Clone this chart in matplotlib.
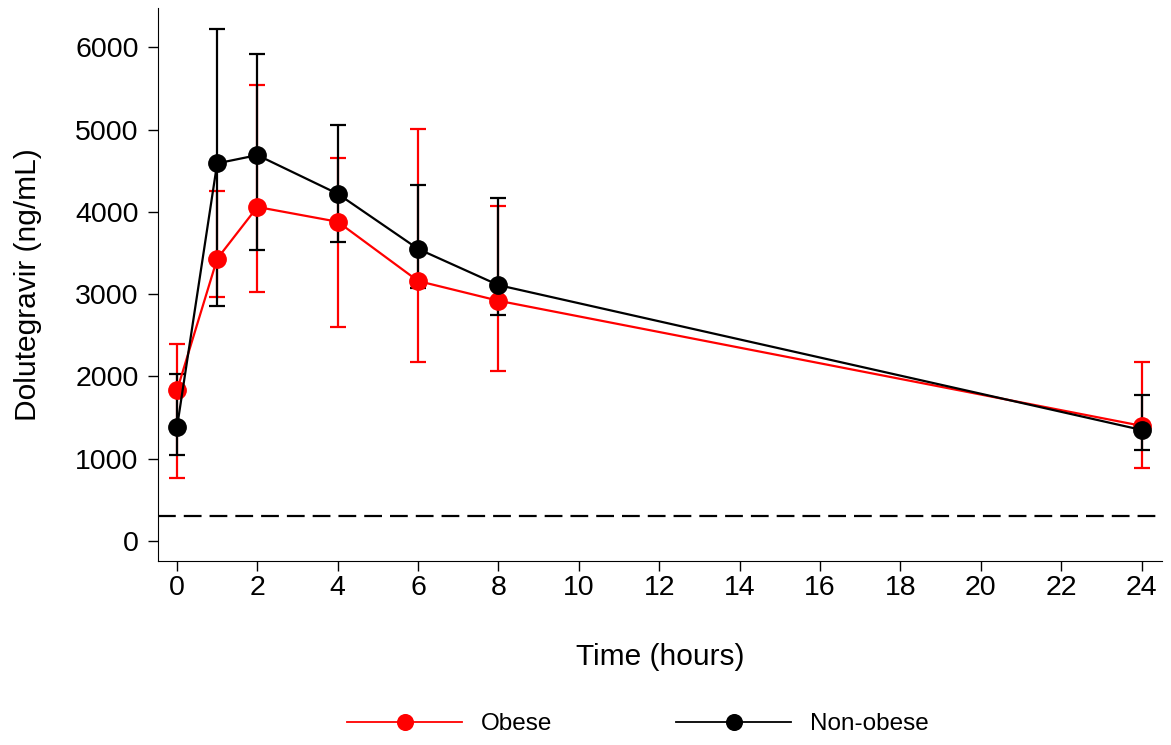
import matplotlib.pyplot as plt
import numpy as np

plt.rcParams['font.family'] = ['Liberation Sans', 'DejaVu Sans']

time_h = [0, 1, 2, 4, 6, 8, 24]

# Obese group: mean and error bar ends
obese_mean = [1830, 3430, 4060, 3880, 3160, 2920, 1400]
obese_upper = [2400, 4260, 5540, 4650, 5010, 4070, 2170]
obese_lower = [760, 2960, 3030, 2600, 2170, 2070, 890]

# Non-obese group
nonobese_mean = [1380, 4590, 4690, 4220, 3550, 3110, 1350]
nonobese_upper = [2030, 6220, 5920, 5060, 4330, 4170, 1780]
nonobese_lower = [1040, 2860, 3540, 3630, 3080, 2750, 1110]

threshold = 300
xticks = list(range(0, 25, 2))
yticks = [0, 1000, 2000, 3000, 4000, 5000, 6000]

fig = plt.figure(figsize=(11.71, 7.45), dpi=100)
ax = fig.add_axes([0.135, 0.247, 0.857, 0.742])

groups = [
    ("Obese", obese_mean, obese_lower, obese_upper, "#ff0000"),
    ("Non-obese", nonobese_mean, nonobese_lower, nonobese_upper, "black"),
]
for label, mean, lower, upper, color in groups:
    mean = np.array(mean)
    err = [mean - np.array(lower), np.array(upper) - mean]
    ax.errorbar(time_h, mean, yerr=err, color=color, lw=1.6, marker="o",
                markersize=12.5, capsize=6, capthick=1.6, elinewidth=1.6,
                label=label)

ax.axhline(threshold, color="black", lw=1.6, linestyle=(0, (8, 3.6)))

ax.set_xlim(-0.47, 24.5)
ax.set_ylim(-243, 6476)
ax.set_xticks(xticks)
ax.set_yticks(yticks)
ax.spines["top"].set_visible(False)
ax.spines["right"].set_visible(False)
ax.tick_params(labelsize=20.5, length=7, width=1)
ax.tick_params(axis="y", pad=7)
ax.tick_params(axis="x", pad=3)
ax.set_xlabel("Time (hours)", fontsize=21.5, labelpad=30)
ax.set_ylabel("Dolutegravir (ng/mL)", fontsize=21.5, labelpad=24)

handles, labels = ax.get_legend_handles_labels()
handles = [h[0] for h in handles]
leg = fig.legend(handles, labels, loc="center", ncol=2, frameon=False,
                 fontsize=17.5, bbox_to_anchor=(0.545, 0.028), handlelength=4.7,
                 handletextpad=0.8, columnspacing=5.1, markerscale=0.9)
for h in leg.legend_handles:
    h.set_linewidth(1.3)

fig.savefig("out.png", dpi=100)
